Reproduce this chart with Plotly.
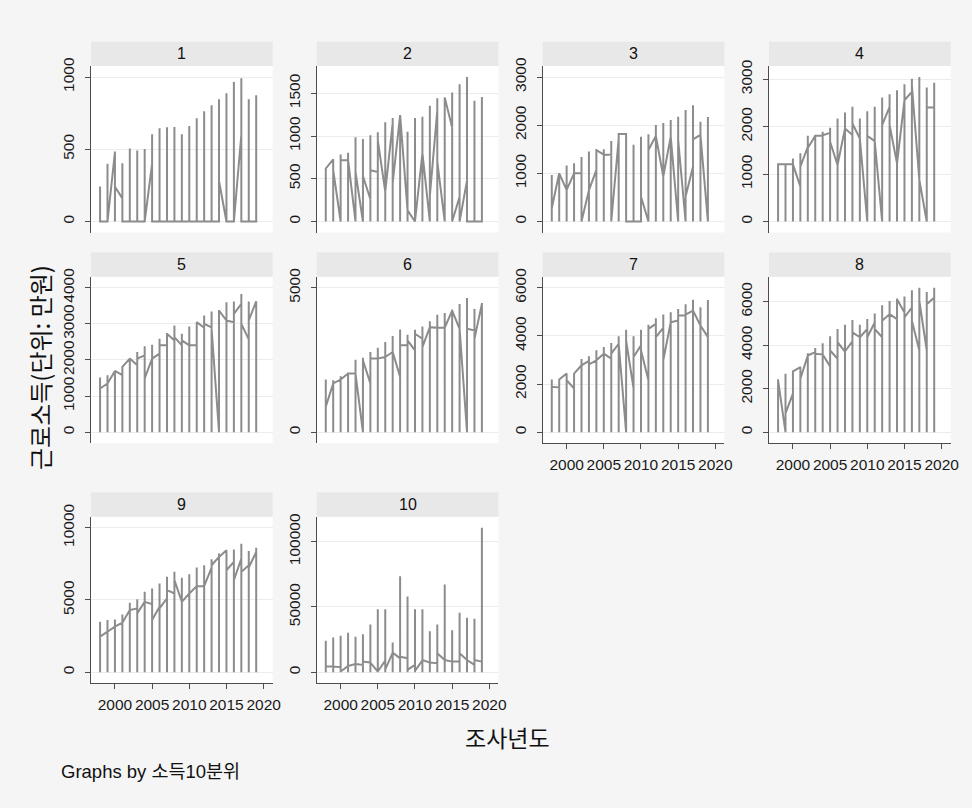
import plotly.graph_objects as go

# Survey years and income deciles
YEARS = list(range(1998, 2020))
DECILES = list(range(1, 11))

# Per decile and year: first observation, highest observation, last observation
# (each year's observations also reach down to 0)
D1_FIRST = [0, 0, 480, 160, 0, 0, 0, 400, 0, 0, 0, 0, 0, 0, 0, 0, 0, 0, 0, 600, 0, 0]
D1_PEAK = [242, 400, 484, 403, 505, 491, 502, 604, 645, 652, 654, 604, 661, 714, 763, 804, 846, 887, 965, 991, 846, 873]
D1_LAST = [0, 0, 240, 0, 0, 0, 0, 0, 0, 0, 0, 0, 0, 0, 0, 0, 280, 0, 0, 0, 0, 0]

D2_FIRST = [620, 727, 0, 715, 0, 0, 260, 580, 350, 1150, 1245, 130, 0, 800, 0, 1300, 0, 1100, 290, 480, 0, 0]
D2_PEAK = [618, 727, 785, 804, 986, 966, 1009, 1044, 1160, 1210, 1245, 1051, 1210, 1225, 1353, 1442, 1450, 1508, 1604, 1690, 1411, 1457]
D2_LAST = [620, 600, 715, 720, 580, 530, 600, 950, 350, 450, 1245, 130, 0, 800, 300, 700, 1450, 0, 0, 0, 0, 1457]

D3_FIRST = [276, 1000, 656, 1000, 1000, 650, 1070, 1390, 1390, 1714, 1817, 0, 0, 0, 1776, 933, 1762, 0, 0, 1140, 1797, 0]
D3_PEAK = [967, 1002, 1161, 1209, 1341, 1451, 1506, 1500, 1672, 1714, 1817, 1596, 1762, 1810, 2004, 2045, 2107, 2177, 2315, 2412, 2073, 2170]
D3_LAST = [276, 1000, 656, 1000, 0, 650, 1480, 1380, 0, 1817, 0, 0, 520, 1486, 1776, 933, 1762, 1693, 518, 1707, 1797, 2170]

D4_FIRST = [1205, 1205, 1205, 736, 1577, 1808, 1808, 1870, 1191, 1962, 1822, 1750, 0, 1696, 0, 2418, 1226, 2558, 2733, 876, 0, 2404]
D4_PEAK = [1205, 1205, 1331, 1437, 1808, 1808, 1892, 1976, 2172, 2298, 2418, 2172, 2327, 2418, 2614, 2684, 2768, 2894, 3013, 3048, 2824, 2929]
D4_LAST = [1205, 1205, 1205, 1156, 1550, 1808, 1820, 1682, 1191, 1962, 2067, 1750, 1808, 1696, 2032, 2032, 1226, 2558, 2873, 876, 2404, 2404]

D5_FIRST = [1211, 1349, 1697, 1578, 2037, 1853, 2128, 2037, 2174, 2404, 2541, 2404, 2404, 2404, 2890, 2900, 0, 3092, 3046, 3550, 2569, 3624]
D5_PEAK = [1514, 1578, 1697, 1807, 2037, 2220, 2376, 2422, 2587, 2743, 2954, 2725, 2927, 3028, 3229, 3339, 3385, 3596, 3615, 3826, 3615, 3624]
D5_LAST = [1211, 1349, 1697, 1807, 2037, 2037, 1486, 2037, 2404, 2725, 2633, 2541, 2404, 3046, 3000, 2860, 3367, 3092, 3275, 3000, 3092, 3624]

D6_FIRST = [883, 1686, 1823, 2030, 2030, 0, 1686, 2546, 2603, 2775, 1915, 3005, 2833, 3234, 3635, 3612, 3612, 4208, 3578, 0, 3520, 4438]
D6_PEAK = [1823, 1800, 1938, 2053, 2511, 2580, 2775, 2924, 3119, 3326, 3555, 3372, 3544, 3658, 3842, 4060, 4128, 4243, 4438, 4644, 4266, 4472]
D6_LAST = [883, 1686, 1823, 2030, 2030, 2488, 2546, 2546, 2603, 2775, 3005, 3177, 3406, 2947, 3635, 3612, 3612, 4208, 3578, 3578, 3234, 4438]

D7_FIRST = [1884, 1857, 2435, 1816, 2779, 2957, 2985, 3260, 3054, 3673, 0, 1816, 3604, 2160, 4498, 4333, 4567, 4635, 4842, 5048, 4429, 3948]
D7_PEAK = [2187, 2187, 2435, 2435, 3040, 3150, 3398, 3535, 3700, 3989, 4250, 3989, 4250, 4457, 4732, 4883, 4979, 5117, 5310, 5502, 5186, 5488]
D7_LAST = [1884, 2187, 2160, 2435, 2779, 2820, 2985, 3260, 3260, 3673, 3810, 3122, 3398, 4292, 3948, 2985, 4567, 4842, 4883, 5048, 4429, 3948]

D8_FIRST = [2386, 0, 1778, 2994, 3526, 3678, 3571, 3024, 3374, 3708, 4179, 4362, 4742, 5046, 4362, 5426, 5198, 5502, 5730, 3754, 3754, 6185]
D8_PEAK = [2432, 2690, 2796, 3024, 3632, 3875, 4088, 4407, 4742, 4939, 5152, 4939, 5198, 5456, 5836, 6033, 6140, 6231, 6520, 6641, 6444, 6641]
D8_LAST = [2386, 866, 2796, 2462, 3526, 3602, 3571, 3754, 4134, 3708, 4590, 4362, 4362, 4742, 5122, 5426, 6110, 5274, 5122, 6033, 5881, 6185]

D9_FIRST = [2460, 2805, 3149, 3425, 4299, 4414, 4874, 4713, 4529, 5103, 5448, 4874, 5448, 5954, 5954, 7241, 7977, 8437, 7632, 7862, 7402, 8322]
D9_PEAK = [3494, 3609, 3655, 4000, 4805, 5057, 5563, 5793, 6138, 6598, 6943, 6529, 6782, 7241, 7402, 7816, 8207, 8391, 8483, 8897, 8391, 8621]
D9_LAST = [2460, 2805, 3149, 3425, 4299, 4069, 4874, 3609, 4414, 5678, 6368, 4874, 5448, 5954, 5954, 7402, 7977, 7057, 6368, 6943, 7241, 8322]

D10_FIRST = [4810, 4300, 3800, 4800, 6300, 5570, 7340, 500, 9000, 15000, 10600, 10600, 5570, 9000, 7340, 6840, 9370, 8100, 8100, 9370, 5570, 8100]
D10_PEAK = [24050, 26580, 27850, 30130, 27090, 29110, 36460, 48100, 48100, 22780, 73420, 57970, 48100, 48100, 31390, 36460, 67090, 32150, 45570, 41770, 41010, 110630]
D10_LAST = [4300, 4300, 500, 4800, 6300, 8100, 7340, 500, 2000, 15000, 11900, 1770, 1000, 9370, 7340, 14430, 9370, 8100, 14430, 9370, 9370, 8100]

FIRST = [D1_FIRST, D2_FIRST, D3_FIRST, D4_FIRST, D5_FIRST, D6_FIRST, D7_FIRST, D8_FIRST, D9_FIRST, D10_FIRST]
PEAK = [D1_PEAK, D2_PEAK, D3_PEAK, D4_PEAK, D5_PEAK, D6_PEAK, D7_PEAK, D8_PEAK, D9_PEAK, D10_PEAK]
LAST = [D1_LAST, D2_LAST, D3_LAST, D4_LAST, D5_LAST, D6_LAST, D7_LAST, D8_LAST, D9_LAST, D10_LAST]

Y_TICKS = [
    [0, 500, 1000],
    [0, 500, 1000, 1500],
    [0, 1000, 2000, 3000],
    [0, 1000, 2000, 3000],
    [0, 1000, 2000, 3000, 4000],
    [0, 5000],
    [0, 2000, 4000, 6000],
    [0, 2000, 4000, 6000],
    [0, 5000, 10000],
    [0, 50000, 100000],
]
X_TICKS = [2000, 2005, 2010, 2015, 2020]

Y_TITLE = "근로소득(단위: 만원)"
X_TITLE = "조사년도"
NOTE = "Graphs by 소득10분위"

# ---- page geometry (pixels) ----
W, H = 972, 808
COL_LEFT = [91, 316.7, 542.7, 769]
PANEL_W = 181.7
ROW_TOP = [66, 276.7, 516.7]
PANEL_H = 166.5
STRIP_H = 24.3
PAD_Y = 11
BOTTOM_AXIS = {7, 8, 9, 10}

FONT = "Liberation Sans, Arial, Noto Sans CJK KR, sans-serif"
KFONT = "Noto Sans CJK KR, Liberation Sans, sans-serif"
LINE = "#8c8c8c"
AXIS = "#4d4d4d"
PAGE_BG = "#f5f5f5"
STRIP_BG = "#e8e8e8"
TICK_FONT = dict(family=FONT, size=15.5, color="#1a1a1a")


def px_x(v):
    return v / W


def px_y(v):
    return 1 - v / H


fig = go.Figure()
layout = {}
shapes = []
annotations = []

for k, dec in enumerate(DECILES):
    r, c = divmod(k, 4)
    xs, ys = [], []
    for i, yr in enumerate(YEARS):
        xs += [yr, yr, yr, yr]
        ys += [FIRST[k][i], PEAK[k][i], 0, LAST[k][i]]

    sfx = "" if k == 0 else str(k + 1)
    fig.add_trace(go.Scatter(
        x=xs, y=ys, mode="lines", xaxis="x" + sfx, yaxis="y" + sfx,
        line=dict(color=LINE, width=2), showlegend=False, hoverinfo="skip",
    ))

    x0, x1 = COL_LEFT[c], COL_LEFT[c] + PANEL_W
    top, bot = ROW_TOP[r], ROW_TOP[r] + PANEL_H

    hi = max(max(Y_TICKS[k]), max(PEAK[k]))
    lo = 0
    pad = (hi - lo) * PAD_Y / (PANEL_H - 2 * PAD_Y)

    has_x = dec in BOTTOM_AXIS
    layout["xaxis" + sfx] = dict(
        domain=[px_x(x0), px_x(x1)], anchor="y" + sfx,
        range=[1996.78, 2021.22], tickvals=X_TICKS,
        ticktext=[str(v) for v in X_TICKS], tickangle=0, automargin=False,
        showgrid=False, zeroline=False,
        showline=has_x, linecolor=AXIS, linewidth=1,
        ticks="outside" if has_x else "", ticklen=5, tickcolor=AXIS,
        showticklabels=has_x, tickfont=TICK_FONT, ticklabelstandoff=2,
    )
    layout["yaxis" + sfx] = dict(
        domain=[px_y(bot), px_y(top)], anchor="x" + sfx,
        range=[lo - pad, hi + pad], tickvals=Y_TICKS[k],
        ticktext=[str(v) for v in Y_TICKS[k]], automargin=False,
        showgrid=True, gridcolor="#ececec", gridwidth=1, zeroline=False,
        showline=True, linecolor=AXIS, linewidth=1,
        ticks="outside", ticklen=5, tickcolor=AXIS, tickangle=-90,
        tickfont=TICK_FONT, ticklabelstandoff=5,
    )

    # strip header
    shapes.append(dict(
        type="rect", xref="paper", yref="paper",
        x0=px_x(x0), x1=px_x(x1), y0=px_y(top), y1=px_y(top - STRIP_H),
        fillcolor=STRIP_BG, line=dict(width=0), layer="below",
    ))
    annotations.append(dict(
        x=px_x((x0 + x1) / 2), y=px_y(top - STRIP_H / 2), xref="paper", yref="paper",
        text=str(dec), showarrow=False, xanchor="center", yanchor="middle",
        font=dict(family=FONT, size=16, color="#111111"),
    ))

annotations.append(dict(
    x=px_x(40), y=px_y(368), xref="paper", yref="paper", text=Y_TITLE,
    showarrow=False, textangle=-90, xanchor="center", yanchor="middle",
    font=dict(family=KFONT, size=24, color="#111111"),
))
annotations.append(dict(
    x=px_x(507), y=px_y(737), xref="paper", yref="paper", text=X_TITLE,
    showarrow=False, xanchor="center", yanchor="middle",
    font=dict(family=KFONT, size=23, color="#111111"),
))
annotations.append(dict(
    x=px_x(59), y=px_y(771), xref="paper", yref="paper", text=NOTE,
    showarrow=False, xanchor="left", yanchor="middle",
    font=dict(family=FONT, size=18.5, color="#111111"),
))

fig.update_layout(
    width=W, height=H, margin=dict(l=0, r=0, t=0, b=0),
    paper_bgcolor=PAGE_BG, plot_bgcolor="white",
    shapes=shapes, annotations=annotations, **layout,
)

fig.write_html("out.html")
